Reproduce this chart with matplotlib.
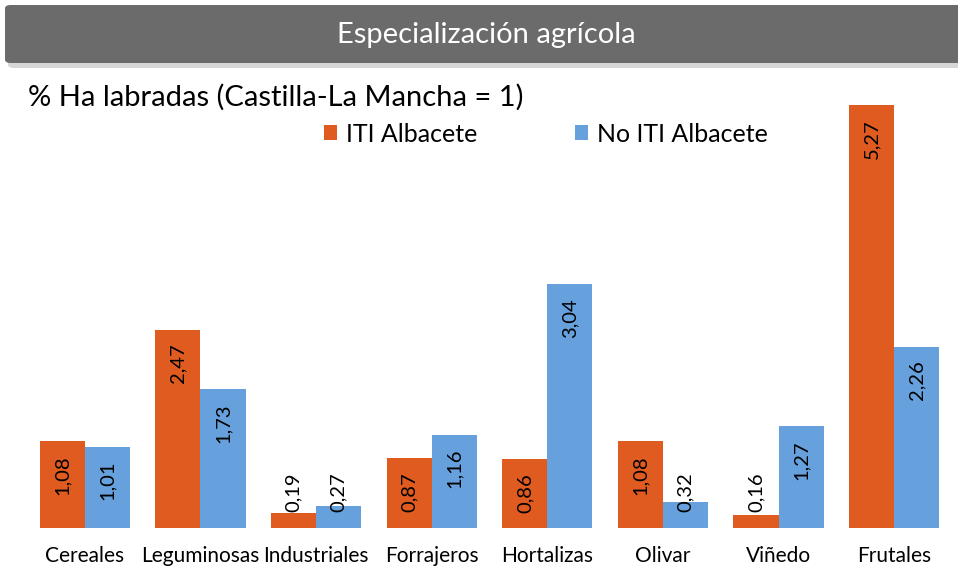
import matplotlib
matplotlib.use('Agg')
import matplotlib.pyplot as plt
from matplotlib.patches import FancyBboxPatch
import numpy as np

plt.rcParams['font.family'] = ['Lato', 'DejaVu Sans']

categorias = ['Cereales', 'Leguminosas', 'Industriales', 'Forrajeros',
              'Hortalizas', 'Olivar', 'Viñedo', 'Frutales']
iti = [1.08, 2.47, 0.19, 0.87, 0.86, 1.08, 0.16, 5.27]
no_iti = [1.01, 1.73, 0.27, 1.16, 3.04, 0.32, 1.27, 2.26]

NARANJA = '#E05B1F'
AZUL = '#66A1DD'
GRIS = '#6B6B6B'

W, H = 958, 570
fig = plt.figure(figsize=(W / 100, H / 100), dpi=100)
fig.patch.set_facecolor('white')

# barra de titulo gris con sombra
sombra = FancyBboxPatch((8 / W, (H - 68) / H), 960 / W, 60 / H,
                        boxstyle='round,pad=0,rounding_size=0.006',
                        transform=fig.transFigure, facecolor='#bbbbbb',
                        edgecolor='none', alpha=0.6, zorder=0)
barra = FancyBboxPatch((5 / W, (H - 63) / H), 960 / W, 58 / H,
                       boxstyle='round,pad=0,rounding_size=0.006',
                       transform=fig.transFigure, facecolor=GRIS,
                       edgecolor='none', zorder=1)
fig.patches.extend([sombra, barra])
fig.text(486 / W, (H - 35) / H, 'Especialización agrícola', color='white',
         fontsize=21, ha='center', va='center', zorder=2)

fig.text(28 / W, (H - 97) / H, '% Ha labradas (Castilla-La Mancha = 1)',
         color='black', fontsize=21, ha='left', va='center')

ax = fig.add_axes([27 / W, (H - 528) / H, 925 / W, 425 / H])

x = np.arange(len(categorias))
ancho = 0.39
b1 = ax.bar(x - ancho / 2, iti, ancho, color=NARANJA, label='ITI Albacete')
b2 = ax.bar(x + ancho / 2, no_iti, ancho, color=AZUL, label='No ITI Albacete')

for barras, vals in [(b1, iti), (b2, no_iti)]:
    for rect, v in zip(barras, vals):
        cx = rect.get_x() + rect.get_width() / 2
        txt = f'{v:.2f}'.replace('.', ',')
        if v < 0.5:
            ax.text(cx, 0.2, txt, rotation=90, ha='center', va='bottom',
                    fontsize=14.5, color='black')
        else:
            ax.annotate(txt, (cx, v), xytext=(0, -10), textcoords='offset points',
                        rotation=90, ha='center', va='top', fontsize=14.5, color='black')

ax.set_xlim(-0.5, len(categorias) - 0.5)
ax.set_ylim(0, 5.3)
ax.set_xticks(x)
ax.set_xticklabels(categorias, fontsize=15)
ax.tick_params(axis='x', length=0, pad=13)
ax.set_yticks([])
ax.spines[['top', 'right', 'left', 'bottom']].set_visible(False)

fig.legend(handles=[b1, b2], loc='center', bbox_to_anchor=(546 / W, (H - 134) / H),
           ncol=2, frameon=False, fontsize=18, handlelength=0.52, handleheight=0.52,
           handletextpad=0.36, columnspacing=3.9)

plt.savefig('out.png', dpi=100, facecolor='white')
